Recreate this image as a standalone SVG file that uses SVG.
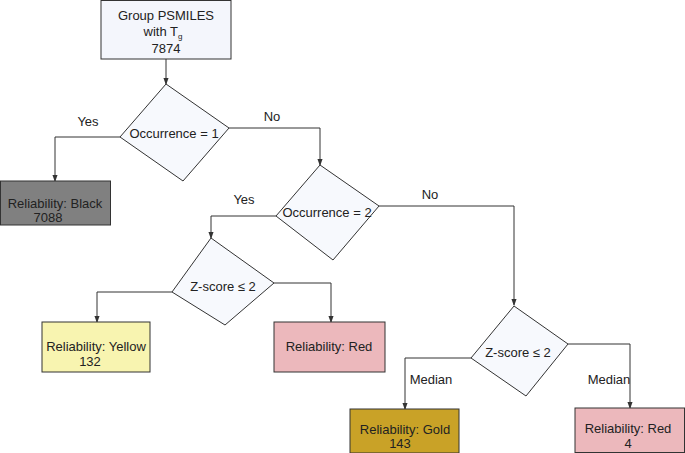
<svg xmlns="http://www.w3.org/2000/svg" width="685" height="453" viewBox="0 0 685 453">
<style>
text{font-family:"Liberation Sans",Arial,sans-serif;font-size:13px;fill:#222;text-anchor:middle}
.n{stroke:#333;stroke-width:1}
.c{fill:none;stroke:#333;stroke-width:1;marker-end:url(#a)}
</style>
<defs><marker id="a" viewBox="0 0 8 8" refX="7" refY="4" markerWidth="7" markerHeight="7" orient="auto"><path d="M0,1 L8,4 L0,7 z" fill="#333"/></marker></defs>
<rect width="685" height="453" fill="#fff"/>
<g id="connectors">
<path class="c" d="M166,59 V84"/>
<path class="c" d="M120,137 H55 V181"/>
<path class="c" d="M229,128 H320 V165"/>
<path class="c" d="M276,216 H211 V238"/>
<path class="c" d="M379,206 H514 V305"/>
<path class="c" d="M172,292 H97 V322"/>
<path class="c" d="M274,283 H331 V322"/>
<path class="c" d="M471,358 H405 V409"/>
<path class="c" d="M568,344 H630 V408"/>
<text x="88" y="126">Yes</text>
<text x="272" y="121">No</text>
<text x="244" y="204">Yes</text>
<text x="430" y="199">No</text>
<text x="119" y="335">Median</text>
<text x="302" y="335">Median</text>
<text x="431" y="384">Median</text>
<text x="609" y="384">Median</text>
</g>
<g id="start"><rect class="n" x="101" y="0.5" width="130" height="58.5" fill="#f4f6fc"/>
<text x="166" y="20">Group PSMILES</text><text x="163" y="36">with T<tspan font-size="8" dy="3">g</tspan></text><text x="166" y="53">7874</text></g>
<g id="d1"><polygon class="n" points="166,84 229,128 183,181 120,137" fill="#f7f9fd"/><text x="174" y="138">Occurrence = 1</text></g>
<g id="black"><rect class="n" x="0.5" y="181" width="110" height="44" fill="#808080"/><text x="55" y="208">Reliability: Black</text><text x="48" y="222">7088</text></g>
<g id="d2"><polygon class="n" points="320,165 379,206 333,260 276,216" fill="#f7f9fd"/><text x="327" y="217">Occurrence = 2</text></g>
<g id="d3"><polygon class="n" points="211,238 274,283 225,325 172,292" fill="#f7f9fd"/><text x="223" y="291">Z-score ≤ 2</text></g>
<g id="yellow"><rect class="n" x="42" y="322" width="108" height="50" fill="#f8f4b0"/><text x="96" y="351">Reliability: Yellow</text><text x="90" y="366">132</text></g>
<g id="red1"><rect class="n" x="274" y="322" width="111" height="50" fill="#ecb8bc"/><text x="329" y="351">Reliability: Red</text></g>
<g id="d4"><polygon class="n" points="514,306 568,344 526,396 471,358" fill="#f7f9fd"/><text x="518" y="357">Z-score ≤ 2</text></g>
<g id="gold"><rect class="n" x="350" y="409" width="109" height="44" fill="#c9a227"/><text x="405" y="434">Reliability: Gold</text><text x="400" y="448">143</text></g>
<g id="red2"><rect class="n" x="575" y="408" width="109.5" height="44.5" fill="#ecb8bc"/><text x="628" y="433">Reliability: Red</text><text x="628" y="448">4</text></g>
</svg>
